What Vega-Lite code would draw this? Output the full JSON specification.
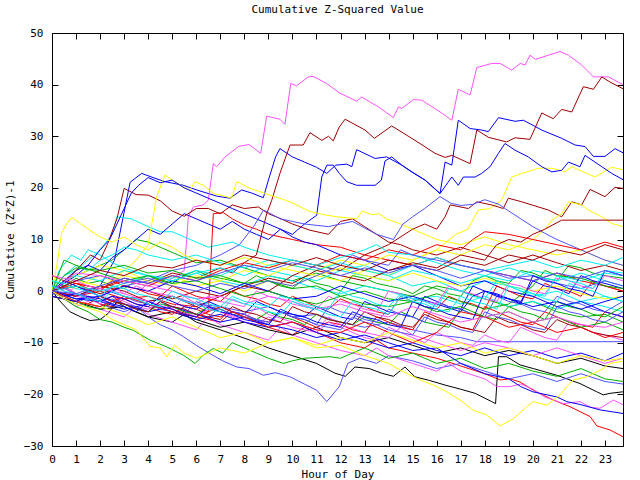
{
"$schema": "https://vega.github.io/schema/vega-lite/v6.json",
"width": 571, "height": 413,
"autosize": {"type": "none"},
"padding": {"left": 52, "top": 33, "right": 17, "bottom": 34},
"background": "white",
"title": {"text": "Cumulative Z-Squared Value", "font": "DejaVu Sans Mono", "fontSize": 11, "fontWeight": "normal", "color": "#000", "offset": 12},
"config": {"view": {"stroke": "#000", "strokeWidth": 1}},
"data": {"values": [
{"s":0,"h":0,"v":0},{"s":0,"h":0.5,"v":1},{"s":0,"h":1,"v":-0.5},{"s":0,"h":2,"v":-2},{"s":0,"h":2.5,"v":-1},{"s":0,"h":3,"v":-2.5},{"s":0,"h":4,"v":-4},{"s":0,"h":4.5,"v":-2},{"s":0,"h":5,"v":-3.5},{"s":0,"h":6,"v":-5},{"s":0,"h":7,"v":-6},{"s":0,"h":7.5,"v":-4},{"s":0,"h":8,"v":-5},{"s":0,"h":9,"v":-7},{"s":0,"h":10,"v":-8.5},{"s":0,"h":10.5,"v":-7},{"s":0,"h":11,"v":-8},{"s":0,"h":12,"v":-10},{"s":0,"h":13,"v":-11},{"s":0,"h":13.5,"v":-9.5},{"s":0,"h":14,"v":-11},{"s":0,"h":15,"v":-12},{"s":0,"h":16,"v":-13},{"s":0,"h":17,"v":-14.5},{"s":0,"h":18,"v":-16},{"s":0,"h":18.64,"v":-17.2},{"s":0,"h":19.05,"v":-17},{"s":0,"h":19.47,"v":-17.6},{"s":0,"h":20.02,"v":-19.2},{"s":0,"h":20.85,"v":-21.1},{"s":0,"h":21.55,"v":-22.4},{"s":0,"h":22.38,"v":-24.3},{"s":0,"h":22.66,"v":-26.1},{"s":0,"h":23.21,"v":-26.9},{"s":0,"h":23.75,"v":-28.2},
{"s":1,"h":0,"v":0},{"s":1,"h":0.5,"v":2},{"s":1,"h":1,"v":3},{"s":1,"h":1.5,"v":4},{"s":1,"h":2,"v":5},{"s":1,"h":2.5,"v":6},{"s":1,"h":3,"v":8},{"s":1,"h":3.5,"v":10},{"s":1,"h":4,"v":9.5},{"s":1,"h":4.5,"v":8.5},{"s":1,"h":5,"v":7.5},{"s":1,"h":5.5,"v":6.5},{"s":1,"h":6,"v":5.5},{"s":1,"h":7,"v":6},{"s":1,"h":8,"v":4.5},{"s":1,"h":9,"v":3},{"s":1,"h":10,"v":2},{"s":1,"h":11,"v":3.5},{"s":1,"h":12,"v":2},{"s":1,"h":13,"v":1},{"s":1,"h":14,"v":0},{"s":1,"h":15,"v":-1},{"s":1,"h":16,"v":1},{"s":1,"h":17,"v":0},{"s":1,"h":18,"v":-1.5},{"s":1,"h":19,"v":-3},{"s":1,"h":20,"v":-2},{"s":1,"h":21,"v":-4},{"s":1,"h":22,"v":-5},{"s":1,"h":23,"v":-4.5},{"s":1,"h":23.75,"v":-6},
{"s":2,"h":0,"v":0},{"s":2,"h":1,"v":-1},{"s":2,"h":2,"v":1},{"s":2,"h":2.6,"v":6},{"s":2,"h":3.25,"v":21.1},{"s":2,"h":3.73,"v":22.8},{"s":2,"h":4.2,"v":22},{"s":2,"h":4.7,"v":21.2},{"s":2,"h":5.46,"v":20.5},{"s":2,"h":6.02,"v":19.6},{"s":2,"h":6.85,"v":18.4},{"s":2,"h":7.4,"v":18},{"s":2,"h":7.89,"v":19.6},{"s":2,"h":8.3,"v":19},{"s":2,"h":8.79,"v":18.1},{"s":2,"h":9,"v":21.5},{"s":2,"h":9.3,"v":26},{"s":2,"h":9.48,"v":27.6},{"s":2,"h":10,"v":26},{"s":2,"h":10.5,"v":25},{"s":2,"h":11,"v":24},{"s":2,"h":11.43,"v":22.8},{"s":2,"h":11.8,"v":24.4},{"s":2,"h":12.26,"v":24.6},{"s":2,"h":12.47,"v":24.1},{"s":2,"h":12.67,"v":27.4},{"s":2,"h":13.44,"v":25.7},{"s":2,"h":13.92,"v":26},{"s":2,"h":14.55,"v":24.4},{"s":2,"h":14.96,"v":23.1},{"s":2,"h":15.52,"v":21.5},{"s":2,"h":16.14,"v":18.9},{"s":2,"h":16.35,"v":25},{"s":2,"h":16.63,"v":24.4},{"s":2,"h":16.9,"v":33.1},{"s":2,"h":17.39,"v":31.5},{"s":2,"h":17.87,"v":31.2},{"s":2,"h":18.15,"v":30.9},{"s":2,"h":18.57,"v":33.6},{"s":2,"h":19.26,"v":32.9},{"s":2,"h":19.61,"v":33.1},{"s":2,"h":20.37,"v":31.2},{"s":2,"h":21.2,"v":29.6},{"s":2,"h":21.76,"v":28.3},{"s":2,"h":22.17,"v":28},{"s":2,"h":22.52,"v":26.1},{"s":2,"h":23,"v":26.1},{"s":2,"h":23.42,"v":27.6},{"s":2,"h":23.75,"v":26.8},
{"s":3,"h":0,"v":0},{"s":3,"h":0.5,"v":-1},{"s":3,"h":1,"v":1},{"s":3,"h":1.5,"v":0},{"s":3,"h":2,"v":-1},{"s":3,"h":2.5,"v":1},{"s":3,"h":3,"v":0.5},{"s":3,"h":3.5,"v":-0.5},{"s":3,"h":4,"v":1.5},{"s":3,"h":4.5,"v":1},{"s":3,"h":5,"v":2.5},{"s":3,"h":5.5,"v":4},{"s":3,"h":5.6,"v":9.9},{"s":3,"h":5.67,"v":14.4},{"s":3,"h":5.88,"v":16.3},{"s":3,"h":6.29,"v":16.7},{"s":3,"h":6.5,"v":17.6},{"s":3,"h":6.71,"v":24.7},{"s":3,"h":6.85,"v":24.1},{"s":3,"h":7.2,"v":26},{"s":3,"h":7.75,"v":28},{"s":3,"h":8.19,"v":28.4},{"s":3,"h":8.68,"v":26.7},{"s":3,"h":8.93,"v":33.9},{"s":3,"h":9.48,"v":33.3},{"s":3,"h":9.69,"v":32.3},{"s":3,"h":9.93,"v":40.2},{"s":3,"h":10.18,"v":39.8},{"s":3,"h":10.66,"v":41.5},{"s":3,"h":10.87,"v":41.6},{"s":3,"h":11.43,"v":40.2},{"s":3,"h":11.95,"v":38.4},{"s":3,"h":12.67,"v":36.8},{"s":3,"h":12.88,"v":37.6},{"s":3,"h":13.57,"v":35.7},{"s":3,"h":14.2,"v":33.6},{"s":3,"h":14.41,"v":35.7},{"s":3,"h":14.55,"v":35.4},{"s":3,"h":15.03,"v":37.1},{"s":3,"h":15.38,"v":37},{"s":3,"h":16.21,"v":34.5},{"s":3,"h":16.63,"v":33.1},{"s":3,"h":16.9,"v":39.1},{"s":3,"h":17.39,"v":38},{"s":3,"h":17.67,"v":43.3},{"s":3,"h":18.29,"v":44.1},{"s":3,"h":18.64,"v":44.1},{"s":3,"h":19.12,"v":42.8},{"s":3,"h":19.47,"v":44.1},{"s":3,"h":19.68,"v":43.8},{"s":3,"h":19.88,"v":45.7},{"s":3,"h":20.11,"v":44.9},{"s":3,"h":20.65,"v":45.7},{"s":3,"h":21.13,"v":46.4},{"s":3,"h":21.48,"v":45.7},{"s":3,"h":22.03,"v":43.8},{"s":3,"h":22.52,"v":41.5},{"s":3,"h":23.14,"v":41.5},{"s":3,"h":23.75,"v":40},
{"s":4,"h":0,"v":0},{"s":4,"h":0.5,"v":3},{"s":4,"h":1,"v":4},{"s":4,"h":1.5,"v":6},{"s":4,"h":2,"v":8},{"s":4,"h":2.5,"v":11},{"s":4,"h":2.7,"v":14.4},{"s":4,"h":3.3,"v":14},{"s":4,"h":4,"v":12.5},{"s":4,"h":4.5,"v":11.5},{"s":4,"h":5,"v":11.5},{"s":4,"h":5.5,"v":10.5},{"s":4,"h":6,"v":9.5},{"s":4,"h":6.5,"v":8.5},{"s":4,"h":7,"v":9},{"s":4,"h":7.5,"v":9.5},{"s":4,"h":8,"v":8.5},{"s":4,"h":9,"v":7},{"s":4,"h":10,"v":6},{"s":4,"h":11,"v":5},{"s":4,"h":12,"v":4},{"s":4,"h":13,"v":5},{"s":4,"h":14,"v":3},{"s":4,"h":15,"v":1},{"s":4,"h":16,"v":2},{"s":4,"h":17,"v":0},{"s":4,"h":18,"v":2},{"s":4,"h":19,"v":1},{"s":4,"h":20,"v":-1},{"s":4,"h":21,"v":0},{"s":4,"h":22,"v":-2},{"s":4,"h":23,"v":-1},{"s":4,"h":23.75,"v":-2},
{"s":5,"h":0,"v":0},{"s":5,"h":1,"v":1.5},{"s":5,"h":2,"v":0.5},{"s":5,"h":3,"v":2.5},{"s":5,"h":4,"v":1.5},{"s":5,"h":5,"v":3.5},{"s":5,"h":6,"v":2.5},{"s":5,"h":7,"v":4.5},{"s":5,"h":7.5,"v":3.5},{"s":5,"h":8,"v":5.5},{"s":5,"h":8.5,"v":7},{"s":5,"h":8.93,"v":15},{"s":5,"h":9.14,"v":17.6},{"s":5,"h":9.48,"v":22.8},{"s":5,"h":9.9,"v":28.3},{"s":5,"h":10.45,"v":28.3},{"s":5,"h":10.73,"v":30.7},{"s":5,"h":11.22,"v":29.2},{"s":5,"h":11.5,"v":30},{"s":5,"h":11.7,"v":29.1},{"s":5,"h":11.95,"v":31.8},{"s":5,"h":12.19,"v":33.3},{"s":5,"h":13.02,"v":31.2},{"s":5,"h":13.41,"v":29.6},{"s":5,"h":14.13,"v":32},{"s":5,"h":15.1,"v":29.2},{"s":5,"h":15.93,"v":26.7},{"s":5,"h":16.35,"v":25.9},{"s":5,"h":16.63,"v":26.3},{"s":5,"h":17.39,"v":24.7},{"s":5,"h":17.67,"v":31.2},{"s":5,"h":18.15,"v":29.8},{"s":5,"h":18.91,"v":28.9},{"s":5,"h":19.26,"v":29.7},{"s":5,"h":19.88,"v":29.4},{"s":5,"h":20.37,"v":34.5},{"s":5,"h":20.85,"v":33.4},{"s":5,"h":21.2,"v":35.2},{"s":5,"h":21.62,"v":34.7},{"s":5,"h":22.1,"v":39.6},{"s":5,"h":22.52,"v":39.1},{"s":5,"h":22.87,"v":41.5},{"s":5,"h":23.21,"v":40.5},{"s":5,"h":23.75,"v":39.2},
{"s":6,"h":0,"v":0},{"s":6,"h":0.5,"v":2},{"s":6,"h":1,"v":3},{"s":6,"h":2,"v":5},{"s":6,"h":3,"v":4},{"s":6,"h":4,"v":2},{"s":6,"h":5,"v":3},{"s":6,"h":6,"v":1},{"s":6,"h":7,"v":2},{"s":6,"h":8,"v":0},{"s":6,"h":9,"v":2},{"s":6,"h":10,"v":1},{"s":6,"h":11,"v":3},{"s":6,"h":12,"v":2},{"s":6,"h":13,"v":4},{"s":6,"h":14,"v":3},{"s":6,"h":15,"v":6},{"s":6,"h":16,"v":8},{"s":6,"h":16.8,"v":11},{"s":6,"h":17.3,"v":12},{"s":6,"h":17.73,"v":15.7},{"s":6,"h":18.2,"v":16},{"s":6,"h":18.7,"v":17.6},{"s":6,"h":19.12,"v":22.1},{"s":6,"h":19.54,"v":22.8},{"s":6,"h":20.23,"v":23.8},{"s":6,"h":20.79,"v":23.8},{"s":6,"h":21.34,"v":23.1},{"s":6,"h":21.62,"v":24.1},{"s":6,"h":22.59,"v":22.1},{"s":6,"h":23.28,"v":24},{"s":6,"h":23.75,"v":23.5},
{"s":7,"h":0,"v":0},{"s":7,"h":0.4,"v":-2.3},{"s":7,"h":0.75,"v":-4},{"s":7,"h":1.2,"v":-5},{"s":7,"h":1.58,"v":-5.7},{"s":7,"h":2,"v":-5.5},{"s":7,"h":2.34,"v":-4.3},{"s":7,"h":2.69,"v":-2.1},{"s":7,"h":3.2,"v":-3.5},{"s":7,"h":4,"v":-5},{"s":7,"h":5,"v":-6},{"s":7,"h":5.5,"v":-4.5},{"s":7,"h":6,"v":-6},{"s":7,"h":7,"v":-7.5},{"s":7,"h":8.24,"v":-9.5},{"s":7,"h":9,"v":-11},{"s":7,"h":10,"v":-12.5},{"s":7,"h":11,"v":-14},{"s":7,"h":11.77,"v":-15.9},{"s":7,"h":12.2,"v":-16.5},{"s":7,"h":12.6,"v":-14.7},{"s":7,"h":13.2,"v":-15},{"s":7,"h":13.71,"v":-15.9},{"s":7,"h":14.2,"v":-16.5},{"s":7,"h":14.68,"v":-14.7},{"s":7,"h":15.1,"v":-16.6},{"s":7,"h":15.7,"v":-17.3},{"s":7,"h":16.35,"v":-18.2},{"s":7,"h":17,"v":-19},{"s":7,"h":17.6,"v":-19.8},{"s":7,"h":18.29,"v":-21.4},{"s":7,"h":18.45,"v":-21.8},{"s":7,"h":18.57,"v":-12.7},{"s":7,"h":18.91,"v":-12.7},{"s":7,"h":19.47,"v":-14.3},{"s":7,"h":20.02,"v":-15},{"s":7,"h":21,"v":-16.3},{"s":7,"h":21.96,"v":-17.9},{"s":7,"h":22.66,"v":-19.5},{"s":7,"h":22.93,"v":-20.1},{"s":7,"h":23.21,"v":-19.8},{"s":7,"h":23.75,"v":-19.5},
{"s":8,"h":0,"v":0},{"s":8,"h":0.5,"v":-1.5},{"s":8,"h":1,"v":-2.5},{"s":8,"h":1.5,"v":-1},{"s":8,"h":2,"v":-2.5},{"s":8,"h":3,"v":-4},{"s":8,"h":3.5,"v":-3},{"s":8,"h":4,"v":-5},{"s":8,"h":4.5,"v":-6.5},{"s":8,"h":5,"v":-7.5},{"s":8,"h":5.46,"v":-8.8},{"s":8,"h":6,"v":-10.5},{"s":8,"h":6.57,"v":-12.1},{"s":8,"h":7.1,"v":-13.5},{"s":8,"h":7.68,"v":-14.7},{"s":8,"h":8.2,"v":-15},{"s":8,"h":8.79,"v":-16.3},{"s":8,"h":9.3,"v":-15.8},{"s":8,"h":9.9,"v":-16.6},{"s":8,"h":10.5,"v":-18},{"s":8,"h":11.01,"v":-19.2},{"s":8,"h":11.43,"v":-21.4},{"s":8,"h":11.95,"v":-18.5},{"s":8,"h":12.3,"v":-14},{"s":8,"h":12.8,"v":-13},{"s":8,"h":13.5,"v":-14},{"s":8,"h":14,"v":-12.5},{"s":8,"h":15,"v":-13.5},{"s":8,"h":16,"v":-15},{"s":8,"h":17,"v":-14},{"s":8,"h":18,"v":-15.5},{"s":8,"h":19,"v":-17},{"s":8,"h":20,"v":-16},{"s":8,"h":21,"v":-17.5},{"s":8,"h":22,"v":-16},{"s":8,"h":23,"v":-17.5},{"s":8,"h":23.75,"v":-18},
{"s":9,"h":0,"v":0},{"s":9,"h":1,"v":-1},{"s":9,"h":2,"v":0},{"s":9,"h":3,"v":-1.5},{"s":9,"h":4,"v":-1},{"s":9,"h":5,"v":-2.5},{"s":9,"h":6,"v":-3},{"s":9,"h":6.5,"v":-4},{"s":9,"h":6.6,"v":5},{"s":9,"h":6.71,"v":15},{"s":9,"h":7.13,"v":15.2},{"s":9,"h":7.5,"v":14},{"s":9,"h":8,"v":12.8},{"s":9,"h":8.5,"v":12},{"s":9,"h":9,"v":11},{"s":9,"h":10,"v":10},{"s":9,"h":11,"v":9},{"s":9,"h":12,"v":8.5},{"s":9,"h":13,"v":7},{"s":9,"h":14,"v":6},{"s":9,"h":15,"v":5},{"s":9,"h":16,"v":6.5},{"s":9,"h":17,"v":5},{"s":9,"h":18,"v":4},{"s":9,"h":19,"v":3},{"s":9,"h":20,"v":2},{"s":9,"h":21,"v":3.5},{"s":9,"h":22,"v":2},{"s":9,"h":23,"v":1},{"s":9,"h":23.75,"v":0},
{"s":10,"h":0,"v":2},{"s":10,"h":0.5,"v":1},{"s":10,"h":1,"v":2.5},{"s":10,"h":1.5,"v":1.5},{"s":10,"h":2,"v":2},{"s":10,"h":2.5,"v":1},{"s":10,"h":3,"v":0.5},{"s":10,"h":3.5,"v":2},{"s":10,"h":4,"v":3},{"s":10,"h":4.5,"v":2},{"s":10,"h":5,"v":1.5},{"s":10,"h":5.5,"v":3},{"s":10,"h":6,"v":4},{"s":10,"h":6.5,"v":3},{"s":10,"h":7,"v":2.5},{"s":10,"h":7.5,"v":2},{"s":10,"h":8,"v":1.5},{"s":10,"h":8.5,"v":3},{"s":10,"h":9,"v":2},{"s":10,"h":9.5,"v":1},{"s":10,"h":10,"v":0.5},{"s":10,"h":10.5,"v":2.5},{"s":10,"h":11,"v":1.5},{"s":10,"h":11.5,"v":1},{"s":10,"h":12,"v":0},{"s":10,"h":12.5,"v":3},{"s":10,"h":13,"v":2.5},{"s":10,"h":13.5,"v":1.5},{"s":10,"h":14,"v":1},{"s":10,"h":14.5,"v":0.5},{"s":10,"h":15,"v":-0.5},{"s":10,"h":15.5,"v":1},{"s":10,"h":16,"v":0.5},{"s":10,"h":16.5,"v":-0.5},{"s":10,"h":17,"v":-1},{"s":10,"h":17.5,"v":2},{"s":10,"h":18,"v":3},{"s":10,"h":18.5,"v":2},{"s":10,"h":19,"v":1.5},{"s":10,"h":19.5,"v":4},{"s":10,"h":20,"v":3.5},{"s":10,"h":20.5,"v":2.5},{"s":10,"h":21,"v":2},{"s":10,"h":21.5,"v":5},{"s":10,"h":22,"v":4.5},{"s":10,"h":22.5,"v":3.5},{"s":10,"h":23,"v":3},{"s":10,"h":23.75,"v":2.5},
{"s":11,"h":0,"v":0},{"s":11,"h":0.5,"v":2},{"s":11,"h":1,"v":4},{"s":11,"h":1.5,"v":5},{"s":11,"h":2,"v":4},{"s":11,"h":2.5,"v":6.5},{"s":11,"h":3,"v":8},{"s":11,"h":3.5,"v":10},{"s":11,"h":4,"v":12},{"s":11,"h":4.5,"v":11},{"s":11,"h":5,"v":13},{"s":11,"h":5.5,"v":15},{"s":11,"h":6,"v":14},{"s":11,"h":6.5,"v":13},{"s":11,"h":7,"v":12},{"s":11,"h":7.5,"v":13.5},{"s":11,"h":8,"v":12},{"s":11,"h":8.5,"v":11},{"s":11,"h":9,"v":10},{"s":11,"h":9.5,"v":12},{"s":11,"h":10,"v":11},{"s":11,"h":10.5,"v":13},{"s":11,"h":11.01,"v":14.7},{"s":11,"h":11.22,"v":22.1},{"s":11,"h":11.43,"v":24.4},{"s":11,"h":11.7,"v":24.4},{"s":11,"h":11.95,"v":22.8},{"s":11,"h":12.26,"v":21.2},{"s":11,"h":12.67,"v":20.5},{"s":11,"h":13.44,"v":20.5},{"s":11,"h":13.7,"v":21.5},{"s":11,"h":13.85,"v":25.2},{"s":11,"h":14.13,"v":26},{"s":11,"h":14.55,"v":24.4},{"s":11,"h":15,"v":23},{"s":11,"h":15.52,"v":21.5},{"s":11,"h":16.14,"v":18.9},{"s":11,"h":16.63,"v":22.1},{"s":11,"h":16.9,"v":20.5},{"s":11,"h":17.11,"v":22.1},{"s":11,"h":17.6,"v":22.1},{"s":11,"h":17.87,"v":22.8},{"s":11,"h":18.22,"v":24.1},{"s":11,"h":18.57,"v":26.7},{"s":11,"h":18.84,"v":28.6},{"s":11,"h":19.26,"v":27.3},{"s":11,"h":19.81,"v":26},{"s":11,"h":20.37,"v":24.1},{"s":11,"h":20.79,"v":23.1},{"s":11,"h":21.2,"v":23.4},{"s":11,"h":21.48,"v":25},{"s":11,"h":21.96,"v":24.1},{"s":11,"h":22.17,"v":26.3},{"s":11,"h":22.87,"v":24.1},{"s":11,"h":23.28,"v":22.8},{"s":11,"h":23.75,"v":21.6},
{"s":12,"h":0,"v":0},{"s":12,"h":0.5,"v":-1.5},{"s":12,"h":1,"v":-3},{"s":12,"h":1.5,"v":-2},{"s":12,"h":2,"v":-3.5},{"s":12,"h":3,"v":-5},{"s":12,"h":3.5,"v":-3},{"s":12,"h":4,"v":-4.5},{"s":12,"h":5,"v":-6},{"s":12,"h":6,"v":-7.5},{"s":12,"h":6.5,"v":-5},{"s":12,"h":7,"v":-6.5},{"s":12,"h":8,"v":-8},{"s":12,"h":9,"v":-9.5},{"s":12,"h":9.5,"v":-7},{"s":12,"h":10,"v":-8.5},{"s":12,"h":11,"v":-10},{"s":12,"h":12,"v":-11.5},{"s":12,"h":13,"v":-12.5},{"s":12,"h":13.5,"v":-11},{"s":12,"h":14,"v":-12.5},{"s":12,"h":15,"v":-14},{"s":12,"h":16,"v":-15.5},{"s":12,"h":16.5,"v":-14},{"s":12,"h":17,"v":-15.5},{"s":12,"h":18,"v":-17},{"s":12,"h":18.5,"v":-18.5},{"s":12,"h":19.05,"v":-18.5},{"s":12,"h":19.5,"v":-18},{"s":12,"h":20,"v":-19},{"s":12,"h":20.5,"v":-20.5},{"s":12,"h":21.27,"v":-21.8},{"s":12,"h":21.96,"v":-21.4},{"s":12,"h":22.4,"v":-22.5},{"s":12,"h":22.79,"v":-22.7},{"s":12,"h":23.35,"v":-21.1},{"s":12,"h":23.75,"v":-22},
{"s":13,"h":0,"v":0},{"s":13,"h":0.3,"v":4},{"s":13,"h":0.8,"v":7},{"s":13,"h":1.2,"v":6},{"s":13,"h":1.5,"v":8},{"s":13,"h":2,"v":7},{"s":13,"h":2.5,"v":5.5},{"s":13,"h":3,"v":4.5},{"s":13,"h":4,"v":3},{"s":13,"h":5,"v":2},{"s":13,"h":6,"v":3.5},{"s":13,"h":7,"v":2},{"s":13,"h":8,"v":1},{"s":13,"h":9,"v":3},{"s":13,"h":10,"v":2},{"s":13,"h":11,"v":0.5},{"s":13,"h":12,"v":-0.5},{"s":13,"h":13,"v":1},{"s":13,"h":14,"v":0},{"s":13,"h":15,"v":-1.5},{"s":13,"h":16,"v":-1},{"s":13,"h":17,"v":-2.5},{"s":13,"h":18,"v":-1},{"s":13,"h":19,"v":-3},{"s":13,"h":20,"v":-2},{"s":13,"h":21,"v":-3.5},{"s":13,"h":22,"v":-2},{"s":13,"h":23,"v":-3},{"s":13,"h":23.75,"v":-4},
{"s":14,"h":0,"v":0},{"s":14,"h":0.8,"v":3},{"s":14,"h":1.2,"v":5},{"s":14,"h":1.6,"v":7},{"s":14,"h":2,"v":6},{"s":14,"h":2.3,"v":9},{"s":14,"h":2.7,"v":14},{"s":14,"h":3,"v":19.9},{"s":14,"h":3.5,"v":18.7},{"s":14,"h":4,"v":18.6},{"s":14,"h":4.5,"v":17.5},{"s":14,"h":5,"v":15.5},{"s":14,"h":5.5,"v":14.5},{"s":14,"h":6,"v":16},{"s":14,"h":6.5,"v":16},{"s":14,"h":7,"v":15},{"s":14,"h":7.5,"v":16.7},{"s":14,"h":8,"v":16},{"s":14,"h":8.58,"v":16.3},{"s":14,"h":9,"v":15},{"s":14,"h":9.48,"v":14.1},{"s":14,"h":10,"v":13},{"s":14,"h":10.73,"v":11.8},{"s":14,"h":11.5,"v":11},{"s":14,"h":12,"v":13.5},{"s":14,"h":12.5,"v":14},{"s":14,"h":13,"v":12.5},{"s":14,"h":13.5,"v":11},{"s":14,"h":14,"v":9.5},{"s":14,"h":14.5,"v":9},{"s":14,"h":15,"v":8},{"s":14,"h":16,"v":7},{"s":14,"h":17,"v":8.5},{"s":14,"h":18,"v":7},{"s":14,"h":19,"v":5.5},{"s":14,"h":20,"v":7},{"s":14,"h":21,"v":5.5},{"s":14,"h":22,"v":4},{"s":14,"h":23,"v":5},{"s":14,"h":23.75,"v":4},
{"s":15,"h":0,"v":0},{"s":15,"h":0.5,"v":1},{"s":15,"h":1,"v":0.5},{"s":15,"h":1.5,"v":2},{"s":15,"h":2,"v":3},{"s":15,"h":2.5,"v":2},{"s":15,"h":3,"v":4},{"s":15,"h":3.5,"v":6},{"s":15,"h":4,"v":9},{"s":15,"h":4.35,"v":18.3},{"s":15,"h":4.7,"v":22.5},{"s":15,"h":5,"v":21.5},{"s":15,"h":5.46,"v":20.2},{"s":15,"h":5.74,"v":19.6},{"s":15,"h":5.95,"v":21.2},{"s":15,"h":6.3,"v":20.5},{"s":15,"h":6.71,"v":18.9},{"s":15,"h":7.1,"v":18.5},{"s":15,"h":7.47,"v":18},{"s":15,"h":7.68,"v":21.2},{"s":15,"h":8.24,"v":19.9},{"s":15,"h":9.07,"v":18.6},{"s":15,"h":9.9,"v":17.3},{"s":15,"h":10.73,"v":15.4},{"s":15,"h":11.43,"v":14.7},{"s":15,"h":11.84,"v":14.4},{"s":15,"h":12.3,"v":14.2},{"s":15,"h":12.67,"v":14},{"s":15,"h":12.9,"v":15.5},{"s":15,"h":13.3,"v":14.8},{"s":15,"h":13.6,"v":15},{"s":15,"h":13.9,"v":14},{"s":15,"h":14.5,"v":13},{"s":15,"h":15.1,"v":11.8},{"s":15,"h":15.5,"v":11},{"s":15,"h":16,"v":10},{"s":15,"h":17,"v":9},{"s":15,"h":18,"v":10.5},{"s":15,"h":19,"v":9},{"s":15,"h":20,"v":8},{"s":15,"h":21,"v":7},{"s":15,"h":22,"v":8},{"s":15,"h":23,"v":6},{"s":15,"h":23.75,"v":5},
{"s":16,"h":0,"v":0},{"s":16,"h":1,"v":-2},{"s":16,"h":2,"v":-3.5},{"s":16,"h":3,"v":-3},{"s":16,"h":4,"v":-5},{"s":16,"h":5,"v":-4},{"s":16,"h":6,"v":-5.5},{"s":16,"h":7,"v":-7},{"s":16,"h":8,"v":-6},{"s":16,"h":9,"v":-7.5},{"s":16,"h":10,"v":-8.5},{"s":16,"h":11,"v":-7},{"s":16,"h":12,"v":-9},{"s":16,"h":13,"v":-10},{"s":16,"h":14,"v":-9},{"s":16,"h":15,"v":-10.5},{"s":16,"h":16,"v":-12},{"s":16,"h":17,"v":-11},{"s":16,"h":18,"v":-12.5},{"s":16,"h":19,"v":-11.5},{"s":16,"h":20,"v":-12.5},{"s":16,"h":21,"v":-14},{"s":16,"h":22,"v":-13},{"s":16,"h":23,"v":-14.5},{"s":16,"h":23.75,"v":-15},
{"s":17,"h":0,"v":0},{"s":17,"h":1,"v":-1},{"s":17,"h":2,"v":0.5},{"s":17,"h":3,"v":-1},{"s":17,"h":4,"v":-2},{"s":17,"h":5,"v":-1},{"s":17,"h":6,"v":-2.5},{"s":17,"h":7,"v":-3},{"s":17,"h":8,"v":-4},{"s":17,"h":9,"v":-3},{"s":17,"h":10,"v":-5},{"s":17,"h":11,"v":-4.5},{"s":17,"h":12,"v":-6},{"s":17,"h":13,"v":-7},{"s":17,"h":14,"v":-6},{"s":17,"h":15,"v":-7.5},{"s":17,"h":16,"v":-8.5},{"s":17,"h":17,"v":-9},{"s":17,"h":17.67,"v":-9.8},{"s":17,"h":23.75,"v":-9.8},
{"s":18,"h":0,"v":-1},{"s":18,"h":0.5,"v":-1.5},{"s":18,"h":1,"v":-2},{"s":18,"h":1.5,"v":-1},{"s":18,"h":2,"v":-2.5},{"s":18,"h":2.5,"v":-3},{"s":18,"h":3,"v":-1.5},{"s":18,"h":3.5,"v":-2.5},{"s":18,"h":4,"v":-3},{"s":18,"h":4.5,"v":-4},{"s":18,"h":5,"v":-4.5},{"s":18,"h":5.5,"v":-3},{"s":18,"h":6,"v":-3.5},{"s":18,"h":6.5,"v":-4.5},{"s":18,"h":7,"v":-5},{"s":18,"h":7.5,"v":-4},{"s":18,"h":8,"v":-4.5},{"s":18,"h":8.5,"v":-5.5},{"s":18,"h":9,"v":-6},{"s":18,"h":9.5,"v":-4},{"s":18,"h":10,"v":-5},{"s":18,"h":10.5,"v":-6},{"s":18,"h":11,"v":-7},{"s":18,"h":11.5,"v":-6},{"s":18,"h":12,"v":-6.5},{"s":18,"h":12.5,"v":-7.5},{"s":18,"h":13,"v":-8},{"s":18,"h":13.5,"v":-5},{"s":18,"h":14,"v":-6},{"s":18,"h":14.5,"v":-7},{"s":18,"h":15,"v":-7.5},{"s":18,"h":15.5,"v":-4},{"s":18,"h":16,"v":-5},{"s":18,"h":16.5,"v":-6},{"s":18,"h":17,"v":-7},{"s":18,"h":17.5,"v":-7.5},{"s":18,"h":18,"v":-3},{"s":18,"h":18.5,"v":-4},{"s":18,"h":19,"v":-5},{"s":18,"h":19.5,"v":-6},{"s":18,"h":20,"v":-6.5},{"s":18,"h":20.5,"v":-4},{"s":18,"h":21,"v":-5},{"s":18,"h":21.5,"v":-6},{"s":18,"h":22,"v":-6.5},{"s":18,"h":22.5,"v":-7},{"s":18,"h":23,"v":-4},{"s":18,"h":23.75,"v":-5},
{"s":19,"h":0,"v":0},{"s":19,"h":0.5,"v":-1.5},{"s":19,"h":1,"v":-3},{"s":19,"h":1.5,"v":-4},{"s":19,"h":2,"v":-5.5},{"s":19,"h":2.5,"v":-6},{"s":19,"h":3,"v":-7},{"s":19,"h":3.38,"v":-7.6},{"s":19,"h":4.08,"v":-9.5},{"s":19,"h":4.77,"v":-10.8},{"s":19,"h":5.46,"v":-12.4},{"s":19,"h":5.95,"v":-14},{"s":19,"h":6.29,"v":-12.4},{"s":19,"h":6.71,"v":-11.1},{"s":19,"h":7.1,"v":-12},{"s":19,"h":7.5,"v":-10},{"s":19,"h":8,"v":-11},{"s":19,"h":8.5,"v":-12},{"s":19,"h":9,"v":-13},{"s":19,"h":9.62,"v":-14},{"s":19,"h":10,"v":-13.5},{"s":19,"h":10.5,"v":-13},{"s":19,"h":11.56,"v":-12.7},{"s":19,"h":12,"v":-13},{"s":19,"h":13,"v":-11},{"s":19,"h":14,"v":-13},{"s":19,"h":15,"v":-12},{"s":19,"h":16,"v":-14},{"s":19,"h":17,"v":-13},{"s":19,"h":18,"v":-15},{"s":19,"h":19,"v":-14},{"s":19,"h":20,"v":-15.5},{"s":19,"h":21,"v":-16.5},{"s":19,"h":22,"v":-15},{"s":19,"h":23,"v":-17},{"s":19,"h":23.75,"v":-17.5},
{"s":20,"h":0,"v":0},{"s":20,"h":0.5,"v":1.5},{"s":20,"h":1,"v":3},{"s":20,"h":1.5,"v":5},{"s":20,"h":2,"v":8},{"s":20,"h":2.4,"v":10},{"s":20,"h":2.7,"v":13},{"s":20,"h":3,"v":16},{"s":20,"h":3.3,"v":19},{"s":20,"h":3.6,"v":20.5},{"s":20,"h":4,"v":22},{"s":20,"h":4.5,"v":21},{"s":20,"h":5,"v":21.5},{"s":20,"h":5.5,"v":20},{"s":20,"h":6,"v":19},{"s":20,"h":6.5,"v":18},{"s":20,"h":7,"v":17},{"s":20,"h":7.5,"v":16},{"s":20,"h":8,"v":15},{"s":20,"h":8.5,"v":14},{"s":20,"h":9,"v":13},{"s":20,"h":9.5,"v":12},{"s":20,"h":10,"v":10.5},{"s":20,"h":10.5,"v":9.5},{"s":20,"h":11,"v":9},{"s":20,"h":12,"v":7},{"s":20,"h":13,"v":6},{"s":20,"h":14,"v":4},{"s":20,"h":15,"v":5},{"s":20,"h":16,"v":3},{"s":20,"h":17,"v":1},{"s":20,"h":18,"v":2},{"s":20,"h":19,"v":0},{"s":20,"h":20,"v":-1},{"s":20,"h":21,"v":-3},{"s":20,"h":22,"v":-2},{"s":20,"h":23,"v":-4},{"s":20,"h":23.75,"v":-5},
{"s":21,"h":0,"v":1},{"s":21,"h":0.5,"v":0},{"s":21,"h":1,"v":-1},{"s":21,"h":1.5,"v":-1.5},{"s":21,"h":2,"v":-2.5},{"s":21,"h":2.5,"v":-1},{"s":21,"h":3,"v":-2},{"s":21,"h":3.5,"v":-3},{"s":21,"h":4,"v":-3.5},{"s":21,"h":4.5,"v":-2},{"s":21,"h":5,"v":-3},{"s":21,"h":5.5,"v":-4},{"s":21,"h":6,"v":-5},{"s":21,"h":6.5,"v":-3.5},{"s":21,"h":7,"v":-4},{"s":21,"h":7.5,"v":-5},{"s":21,"h":8,"v":-6},{"s":21,"h":8.5,"v":-6.5},{"s":21,"h":9,"v":-5},{"s":21,"h":9.5,"v":-6},{"s":21,"h":10,"v":-7},{"s":21,"h":10.5,"v":-7.5},{"s":21,"h":11,"v":-8},{"s":21,"h":11.5,"v":-6},{"s":21,"h":12,"v":-7},{"s":21,"h":12.5,"v":-8},{"s":21,"h":13,"v":-9},{"s":21,"h":13.5,"v":-9.5},{"s":21,"h":14,"v":-7},{"s":21,"h":14.5,"v":-8},{"s":21,"h":15,"v":-9},{"s":21,"h":15.5,"v":-10},{"s":21,"h":16,"v":-8},{"s":21,"h":16.5,"v":-9},{"s":21,"h":17,"v":-10},{"s":21,"h":17.5,"v":-10.5},{"s":21,"h":18,"v":-8.5},{"s":21,"h":18.5,"v":-9.5},{"s":21,"h":19,"v":-10},{"s":21,"h":19.5,"v":-7},{"s":21,"h":20,"v":-8},{"s":21,"h":20.5,"v":-9},{"s":21,"h":21,"v":-9.5},{"s":21,"h":21.5,"v":-6},{"s":21,"h":22,"v":-7},{"s":21,"h":22.5,"v":-8},{"s":21,"h":23,"v":-8.5},{"s":21,"h":23.75,"v":-9.5},
{"s":22,"h":0,"v":0},{"s":22,"h":0.5,"v":2},{"s":22,"h":1,"v":3},{"s":22,"h":2,"v":2},{"s":22,"h":3,"v":4},{"s":22,"h":4,"v":3},{"s":22,"h":5,"v":2.5},{"s":22,"h":6,"v":4},{"s":22,"h":7,"v":3},{"s":22,"h":8,"v":5},{"s":22,"h":9,"v":4},{"s":22,"h":10,"v":3},{"s":22,"h":11,"v":2},{"s":22,"h":12,"v":4},{"s":22,"h":13,"v":3},{"s":22,"h":14,"v":2},{"s":22,"h":15,"v":4},{"s":22,"h":16,"v":3},{"s":22,"h":17,"v":1.5},{"s":22,"h":18,"v":3},{"s":22,"h":19,"v":2},{"s":22,"h":20,"v":4},{"s":22,"h":21,"v":3},{"s":22,"h":22,"v":2},{"s":22,"h":23,"v":3.5},{"s":22,"h":23.75,"v":3},
{"s":23,"h":0,"v":0},{"s":23,"h":1,"v":-1},{"s":23,"h":2,"v":1},{"s":23,"h":3,"v":0},{"s":23,"h":4,"v":-2},{"s":23,"h":5,"v":-1},{"s":23,"h":6,"v":-3},{"s":23,"h":7,"v":-1},{"s":23,"h":8,"v":1},{"s":23,"h":9,"v":0},{"s":23,"h":10,"v":3},{"s":23,"h":11,"v":5},{"s":23,"h":12,"v":4},{"s":23,"h":13,"v":7},{"s":23,"h":14,"v":9},{"s":23,"h":15,"v":12},{"s":23,"h":15.5,"v":13},{"s":23,"h":16,"v":12},{"s":23,"h":16.35,"v":14.4},{"s":23,"h":16.56,"v":16.7},{"s":23,"h":17.32,"v":16},{"s":23,"h":17.67,"v":17.3},{"s":23,"h":18.29,"v":16.7},{"s":23,"h":18.77,"v":16},{"s":23,"h":18.98,"v":18},{"s":23,"h":19.54,"v":17.3},{"s":23,"h":20.65,"v":15.7},{"s":23,"h":21.2,"v":14.4},{"s":23,"h":21.62,"v":17.3},{"s":23,"h":22.03,"v":16.7},{"s":23,"h":22.38,"v":19.7},{"s":23,"h":23,"v":18.3},{"s":23,"h":23.42,"v":20.1},{"s":23,"h":23.75,"v":19.9},
{"s":24,"h":0,"v":0},{"s":24,"h":1,"v":2},{"s":24,"h":2,"v":1},{"s":24,"h":3,"v":3},{"s":24,"h":4,"v":2},{"s":24,"h":5,"v":1},{"s":24,"h":6,"v":3},{"s":24,"h":7,"v":2},{"s":24,"h":8,"v":4},{"s":24,"h":9,"v":3},{"s":24,"h":10,"v":5},{"s":24,"h":11,"v":4},{"s":24,"h":12,"v":6},{"s":24,"h":13,"v":5},{"s":24,"h":14,"v":7},{"s":24,"h":15,"v":6},{"s":24,"h":16,"v":8},{"s":24,"h":17,"v":7},{"s":24,"h":18,"v":9},{"s":24,"h":19,"v":8},{"s":24,"h":20,"v":10},{"s":24,"h":20.5,"v":12},{"s":24,"h":20.79,"v":13.75},{"s":24,"h":21.2,"v":15},{"s":24,"h":21.48,"v":17.3},{"s":24,"h":22.03,"v":16.7},{"s":24,"h":22.31,"v":15.7},{"s":24,"h":22.87,"v":14.4},{"s":24,"h":23.28,"v":13.1},{"s":24,"h":23.75,"v":12.5},
{"s":25,"h":0,"v":0},{"s":25,"h":1,"v":-1.5},{"s":25,"h":2,"v":-1},{"s":25,"h":3,"v":-2.5},{"s":25,"h":4,"v":-4},{"s":25,"h":5,"v":-3},{"s":25,"h":6,"v":-4.5},{"s":25,"h":7,"v":-6},{"s":25,"h":8,"v":-5},{"s":25,"h":9,"v":-6.5},{"s":25,"h":10,"v":-7.5},{"s":25,"h":11,"v":-9},{"s":25,"h":12,"v":-8},{"s":25,"h":13,"v":-9.5},{"s":25,"h":14,"v":-11},{"s":25,"h":15,"v":-10},{"s":25,"h":16,"v":-11.5},{"s":25,"h":17,"v":-12.5},{"s":25,"h":18,"v":-11},{"s":25,"h":19,"v":-12.5},{"s":25,"h":20,"v":-11.5},{"s":25,"h":21,"v":-13},{"s":25,"h":22,"v":-12},{"s":25,"h":23,"v":-13.5},{"s":25,"h":23.75,"v":-12},
{"s":26,"h":0,"v":0},{"s":26,"h":1,"v":1},{"s":26,"h":2,"v":-1},{"s":26,"h":3,"v":1},{"s":26,"h":4,"v":2},{"s":26,"h":5,"v":4},{"s":26,"h":6,"v":5},{"s":26,"h":7,"v":7},{"s":26,"h":7.8,"v":9},{"s":26,"h":8.4,"v":12.6},{"s":26,"h":8.8,"v":15.7},{"s":26,"h":9.5,"v":14},{"s":26,"h":10.5,"v":13},{"s":26,"h":11.5,"v":12.5},{"s":26,"h":12.5,"v":13.5},{"s":26,"h":13.5,"v":11},{"s":26,"h":14.2,"v":10},{"s":26,"h":14.6,"v":13},{"s":26,"h":15,"v":14.4},{"s":26,"h":15.5,"v":16},{"s":26,"h":16.14,"v":18.3},{"s":26,"h":16.6,"v":17},{"s":26,"h":17,"v":16.6},{"s":26,"h":17.5,"v":16.8},{"s":26,"h":18,"v":17.7},{"s":26,"h":18.6,"v":16.8},{"s":26,"h":19,"v":15.5},{"s":26,"h":19.5,"v":14},{"s":26,"h":20,"v":12.5},{"s":26,"h":20.5,"v":11.2},{"s":26,"h":21,"v":10},{"s":26,"h":21.5,"v":9},{"s":26,"h":22,"v":8},{"s":26,"h":23,"v":6},{"s":26,"h":23.75,"v":5},
{"s":27,"h":0,"v":3},{"s":27,"h":0.5,"v":2},{"s":27,"h":1,"v":1.5},{"s":27,"h":1.5,"v":0.5},{"s":27,"h":2,"v":0},{"s":27,"h":2.5,"v":2},{"s":27,"h":3,"v":1},{"s":27,"h":3.5,"v":0.5},{"s":27,"h":4,"v":-0.5},{"s":27,"h":4.5,"v":-1},{"s":27,"h":5,"v":1},{"s":27,"h":5.5,"v":0},{"s":27,"h":6,"v":-1},{"s":27,"h":6.5,"v":-1.5},{"s":27,"h":7,"v":-2},{"s":27,"h":7.5,"v":0},{"s":27,"h":8,"v":-1},{"s":27,"h":8.5,"v":-1.5},{"s":27,"h":9,"v":-2.5},{"s":27,"h":9.5,"v":-3},{"s":27,"h":10,"v":-1},{"s":27,"h":10.5,"v":-2},{"s":27,"h":11,"v":-3},{"s":27,"h":11.5,"v":-3.5},{"s":27,"h":12,"v":-1.5},{"s":27,"h":12.5,"v":-2.5},{"s":27,"h":13,"v":-3},{"s":27,"h":13.5,"v":-4},{"s":27,"h":14,"v":-4.5},{"s":27,"h":14.5,"v":-1},{"s":27,"h":15,"v":-2},{"s":27,"h":15.5,"v":-3},{"s":27,"h":16,"v":-3.5},{"s":27,"h":16.5,"v":-1},{"s":27,"h":17,"v":-2},{"s":27,"h":17.5,"v":-2.5},{"s":27,"h":18,"v":-3.5},{"s":27,"h":18.5,"v":1},{"s":27,"h":19,"v":0},{"s":27,"h":19.5,"v":-1},{"s":27,"h":20,"v":-1.5},{"s":27,"h":20.5,"v":1.5},{"s":27,"h":21,"v":0.5},{"s":27,"h":21.5,"v":0},{"s":27,"h":22,"v":-1},{"s":27,"h":22.5,"v":2},{"s":27,"h":23,"v":1},{"s":27,"h":23.75,"v":0},
{"s":28,"h":0,"v":-1},{"s":28,"h":0.5,"v":-1.5},{"s":28,"h":1,"v":-2},{"s":28,"h":1.5,"v":-3},{"s":28,"h":2,"v":-3.5},{"s":28,"h":2.5,"v":-2},{"s":28,"h":3,"v":-2.5},{"s":28,"h":3.5,"v":-3.5},{"s":28,"h":4,"v":-4},{"s":28,"h":4.5,"v":-2.5},{"s":28,"h":5,"v":-3},{"s":28,"h":5.5,"v":-4},{"s":28,"h":6,"v":-4.5},{"s":28,"h":6.5,"v":-3},{"s":28,"h":7,"v":-3.5},{"s":28,"h":7.5,"v":-4.5},{"s":28,"h":8,"v":-5},{"s":28,"h":8.5,"v":-5.5},{"s":28,"h":9,"v":-4},{"s":28,"h":9.5,"v":-5},{"s":28,"h":10,"v":-5.5},{"s":28,"h":10.5,"v":-6.5},{"s":28,"h":11,"v":-4.5},{"s":28,"h":11.5,"v":-5.5},{"s":28,"h":12,"v":-6},{"s":28,"h":12.5,"v":-6.5},{"s":28,"h":13,"v":-5},{"s":28,"h":13.5,"v":-6},{"s":28,"h":14,"v":-6.5},{"s":28,"h":14.5,"v":-4},{"s":28,"h":15,"v":-5},{"s":28,"h":15.5,"v":-6},{"s":28,"h":16,"v":-6.5},{"s":28,"h":16.5,"v":-7},{"s":28,"h":17,"v":-3.5},{"s":28,"h":17.5,"v":-4.5},{"s":28,"h":18,"v":-5},{"s":28,"h":18.5,"v":-5.5},{"s":28,"h":19,"v":-3},{"s":28,"h":19.5,"v":-4},{"s":28,"h":20,"v":-4.5},{"s":28,"h":20.5,"v":-5.5},{"s":28,"h":21,"v":-2},{"s":28,"h":21.5,"v":-3},{"s":28,"h":22,"v":-3.5},{"s":28,"h":22.5,"v":-4.5},{"s":28,"h":23,"v":-5},{"s":28,"h":23.75,"v":-3},
{"s":29,"h":0,"v":0},{"s":29,"h":1,"v":-1.5},{"s":29,"h":2,"v":-2},{"s":29,"h":3,"v":-3.5},{"s":29,"h":4,"v":-2.5},{"s":29,"h":5,"v":-4},{"s":29,"h":6,"v":-5.5},{"s":29,"h":7,"v":-4.5},{"s":29,"h":8,"v":-6},{"s":29,"h":9,"v":-7},{"s":29,"h":10,"v":-6},{"s":29,"h":11,"v":-8},{"s":29,"h":12,"v":-9.5},{"s":29,"h":13,"v":-8.5},{"s":29,"h":14,"v":-10},{"s":29,"h":15,"v":-11.5},{"s":29,"h":16,"v":-11},{"s":29,"h":17,"v":-14},{"s":29,"h":18,"v":-16},{"s":29,"h":19,"v":-17},{"s":29,"h":19.5,"v":-18.5},{"s":29,"h":20,"v":-19.5},{"s":29,"h":21,"v":-20.5},{"s":29,"h":21.41,"v":-21.4},{"s":29,"h":22,"v":-22},{"s":29,"h":22.79,"v":-23},{"s":29,"h":23.75,"v":-23.7},
{"s":30,"h":0,"v":0},{"s":30,"h":0.5,"v":1},{"s":30,"h":1,"v":-0.5},{"s":30,"h":2,"v":-2},{"s":30,"h":2.5,"v":1},{"s":30,"h":3,"v":-0.5},{"s":30,"h":4,"v":-2},{"s":30,"h":5,"v":-3.5},{"s":30,"h":5.5,"v":-1},{"s":30,"h":6,"v":-2.5},{"s":30,"h":7,"v":-4},{"s":30,"h":8,"v":-5.5},{"s":30,"h":8.5,"v":-3},{"s":30,"h":9,"v":-4.5},{"s":30,"h":10,"v":-6},{"s":30,"h":11,"v":-7.5},{"s":30,"h":11.5,"v":-5},{"s":30,"h":12,"v":-6.5},{"s":30,"h":13,"v":-8},{"s":30,"h":14,"v":-9},{"s":30,"h":14.5,"v":-7},{"s":30,"h":15,"v":-8.5},{"s":30,"h":16,"v":-10},{"s":30,"h":17,"v":-11.5},{"s":30,"h":18,"v":-10},{"s":30,"h":19,"v":-11},{"s":30,"h":20,"v":-12.5},{"s":30,"h":21,"v":-11},{"s":30,"h":22,"v":-12.5},{"s":30,"h":23,"v":-14},{"s":30,"h":23.75,"v":-13},
{"s":31,"h":0,"v":0},{"s":31,"h":0.5,"v":3},{"s":31,"h":1,"v":5},{"s":31,"h":1.5,"v":4},{"s":31,"h":2,"v":6},{"s":31,"h":2.5,"v":7},{"s":31,"h":3,"v":8.5},{"s":31,"h":3.5,"v":8},{"s":31,"h":4,"v":7},{"s":31,"h":5,"v":6},{"s":31,"h":6,"v":7},{"s":31,"h":7,"v":5.5},{"s":31,"h":8,"v":4.5},{"s":31,"h":9,"v":6},{"s":31,"h":10,"v":5},{"s":31,"h":11,"v":4},{"s":31,"h":12,"v":5.5},{"s":31,"h":13,"v":4},{"s":31,"h":14,"v":3},{"s":31,"h":15,"v":5},{"s":31,"h":16,"v":6.5},{"s":31,"h":17,"v":5},{"s":31,"h":18,"v":4},{"s":31,"h":19,"v":5},{"s":31,"h":20,"v":6},{"s":31,"h":21,"v":4.5},{"s":31,"h":22,"v":6},{"s":31,"h":23,"v":5},{"s":31,"h":23.75,"v":6.5},
{"s":32,"h":0,"v":0},{"s":32,"h":1,"v":1},{"s":32,"h":2,"v":-0.5},{"s":32,"h":3,"v":1},{"s":32,"h":4,"v":0},{"s":32,"h":5,"v":-1.5},{"s":32,"h":6,"v":0},{"s":32,"h":7,"v":-1},{"s":32,"h":8,"v":1},{"s":32,"h":9,"v":2.5},{"s":32,"h":10,"v":1.5},{"s":32,"h":11,"v":4},{"s":32,"h":12,"v":3},{"s":32,"h":13,"v":2},{"s":32,"h":14,"v":4},{"s":32,"h":15,"v":5.5},{"s":32,"h":16,"v":4.5},{"s":32,"h":17,"v":7},{"s":32,"h":18,"v":6},{"s":32,"h":18.5,"v":9},{"s":32,"h":19,"v":10},{"s":32,"h":19.5,"v":9.5},{"s":32,"h":20,"v":11},{"s":32,"h":20.5,"v":12},{"s":32,"h":21.2,"v":13.75},{"s":32,"h":23.75,"v":13.75},
{"s":33,"h":0,"v":0},{"s":33,"h":0.2,"v":5},{"s":33,"h":0.4,"v":11.2},{"s":33,"h":0.6,"v":13},{"s":33,"h":0.82,"v":14.3},{"s":33,"h":1.2,"v":13},{"s":33,"h":1.58,"v":11.8},{"s":33,"h":2,"v":10.5},{"s":33,"h":2.5,"v":9.5},{"s":33,"h":3,"v":10.5},{"s":33,"h":3.5,"v":9},{"s":33,"h":4,"v":8},{"s":33,"h":4.5,"v":9.5},{"s":33,"h":5,"v":8.5},{"s":33,"h":5.5,"v":7},{"s":33,"h":6,"v":6},{"s":33,"h":7,"v":5},{"s":33,"h":8,"v":6.5},{"s":33,"h":9,"v":5},{"s":33,"h":10,"v":4},{"s":33,"h":11,"v":3},{"s":33,"h":12,"v":4.5},{"s":33,"h":13,"v":3},{"s":33,"h":14,"v":2},{"s":33,"h":15,"v":3.5},{"s":33,"h":16,"v":2},{"s":33,"h":17,"v":1},{"s":33,"h":18,"v":2.5},{"s":33,"h":19,"v":1},{"s":33,"h":20,"v":0},{"s":33,"h":21,"v":1},{"s":33,"h":22,"v":-0.5},{"s":33,"h":23,"v":-1.5},{"s":33,"h":23.75,"v":-1},
{"s":34,"h":0,"v":0},{"s":34,"h":0.5,"v":-1},{"s":34,"h":1,"v":-0.5},{"s":34,"h":1.5,"v":-1.5},{"s":34,"h":2,"v":-2},{"s":34,"h":2.5,"v":-1},{"s":34,"h":3,"v":-1.5},{"s":34,"h":3.5,"v":-2.5},{"s":34,"h":4,"v":-3},{"s":34,"h":4.5,"v":-1},{"s":34,"h":5,"v":-2},{"s":34,"h":5.5,"v":-3},{"s":34,"h":6,"v":-3.5},{"s":34,"h":6.5,"v":-2},{"s":34,"h":7,"v":-3},{"s":34,"h":7.5,"v":-4},{"s":34,"h":8,"v":-4.5},{"s":34,"h":8.5,"v":-2},{"s":34,"h":9,"v":-3},{"s":34,"h":9.5,"v":-4},{"s":34,"h":10,"v":-4.5},{"s":34,"h":10.5,"v":-5},{"s":34,"h":11,"v":-3},{"s":34,"h":11.5,"v":-4},{"s":34,"h":12,"v":-5},{"s":34,"h":12.5,"v":-5.5},{"s":34,"h":13,"v":-2},{"s":34,"h":13.5,"v":-3},{"s":34,"h":14,"v":-4},{"s":34,"h":14.5,"v":-4.5},{"s":34,"h":15,"v":-5},{"s":34,"h":15.5,"v":-1},{"s":34,"h":16,"v":-2},{"s":34,"h":16.5,"v":-3},{"s":34,"h":17,"v":-3.5},{"s":34,"h":17.5,"v":1},{"s":34,"h":18,"v":0},{"s":34,"h":18.5,"v":-0.5},{"s":34,"h":19,"v":-1.5},{"s":34,"h":19.5,"v":-2},{"s":34,"h":20,"v":2},{"s":34,"h":20.5,"v":1},{"s":34,"h":21,"v":0.5},{"s":34,"h":21.5,"v":-0.5},{"s":34,"h":22,"v":3},{"s":34,"h":22.5,"v":2},{"s":34,"h":23,"v":1.5},{"s":34,"h":23.75,"v":0.5},
{"s":35,"h":0,"v":-0.5},{"s":35,"h":0.5,"v":-1},{"s":35,"h":1,"v":-2},{"s":35,"h":1.5,"v":-2.5},{"s":35,"h":2,"v":-3},{"s":35,"h":2.5,"v":-1.5},{"s":35,"h":3,"v":-2.5},{"s":35,"h":3.5,"v":-3},{"s":35,"h":4,"v":-4},{"s":35,"h":4.5,"v":-2},{"s":35,"h":5,"v":-3},{"s":35,"h":5.5,"v":-3.5},{"s":35,"h":6,"v":-4.5},{"s":35,"h":6.5,"v":-5},{"s":35,"h":7,"v":-3},{"s":35,"h":7.5,"v":-4},{"s":35,"h":8,"v":-4.5},{"s":35,"h":8.5,"v":-5.5},{"s":35,"h":9,"v":-6},{"s":35,"h":9.5,"v":-4},{"s":35,"h":10,"v":-5},{"s":35,"h":10.5,"v":-5.5},{"s":35,"h":11,"v":-6.5},{"s":35,"h":11.5,"v":-3},{"s":35,"h":12,"v":-4},{"s":35,"h":12.5,"v":-4.5},{"s":35,"h":13,"v":-5.5},{"s":35,"h":13.5,"v":-6},{"s":35,"h":14,"v":-3.5},{"s":35,"h":14.5,"v":-4.5},{"s":35,"h":15,"v":-5},{"s":35,"h":15.5,"v":-6},{"s":35,"h":16,"v":-2},{"s":35,"h":16.5,"v":-3},{"s":35,"h":17,"v":-3.5},{"s":35,"h":17.5,"v":-4.5},{"s":35,"h":18,"v":-5},{"s":35,"h":18.5,"v":-1},{"s":35,"h":19,"v":-2},{"s":35,"h":19.5,"v":-2.5},{"s":35,"h":20,"v":-3.5},{"s":35,"h":20.5,"v":-4},{"s":35,"h":21,"v":-1},{"s":35,"h":21.5,"v":-2},{"s":35,"h":22,"v":-2.5},{"s":35,"h":22.5,"v":-3.5},{"s":35,"h":23,"v":-4},{"s":35,"h":23.75,"v":-2},
{"s":36,"h":0,"v":0},{"s":36,"h":1,"v":1.5},{"s":36,"h":2,"v":0.5},{"s":36,"h":3,"v":2},{"s":36,"h":4,"v":1},{"s":36,"h":5,"v":3},{"s":36,"h":6,"v":2},{"s":36,"h":7,"v":4},{"s":36,"h":8,"v":5.5},{"s":36,"h":9,"v":4.5},{"s":36,"h":10,"v":6},{"s":36,"h":11,"v":5},{"s":36,"h":12,"v":7},{"s":36,"h":13,"v":6},{"s":36,"h":14,"v":8},{"s":36,"h":15,"v":7},{"s":36,"h":16,"v":9},{"s":36,"h":17,"v":8},{"s":36,"h":17.5,"v":10},{"s":36,"h":18,"v":11.5},{"s":36,"h":19,"v":11},{"s":36,"h":20,"v":10},{"s":36,"h":21,"v":9},{"s":36,"h":22,"v":8},{"s":36,"h":23,"v":9.5},{"s":36,"h":23.75,"v":8.5},
{"s":37,"h":0,"v":0},{"s":37,"h":0.5,"v":3},{"s":37,"h":1,"v":4.5},{"s":37,"h":2,"v":4},{"s":37,"h":3,"v":5},{"s":37,"h":4,"v":3.5},{"s":37,"h":5,"v":4},{"s":37,"h":6,"v":2.5},{"s":37,"h":7,"v":3},{"s":37,"h":8,"v":1.5},{"s":37,"h":9,"v":2},{"s":37,"h":10,"v":0.5},{"s":37,"h":11,"v":1},{"s":37,"h":12,"v":-1},{"s":37,"h":13,"v":0},{"s":37,"h":14,"v":-1.5},{"s":37,"h":15,"v":-2},{"s":37,"h":16,"v":-0.5},{"s":37,"h":17,"v":-2},{"s":37,"h":18,"v":-3.5},{"s":37,"h":19,"v":-2.5},{"s":37,"h":20,"v":1},{"s":37,"h":20.5,"v":4},{"s":37,"h":21,"v":3},{"s":37,"h":22,"v":2.5},{"s":37,"h":23,"v":1},{"s":37,"h":23.75,"v":0.5},
{"s":38,"h":0,"v":0},{"s":38,"h":0.5,"v":2},{"s":38,"h":1,"v":1},{"s":38,"h":2,"v":-1},{"s":38,"h":3,"v":1},{"s":38,"h":4,"v":0},{"s":38,"h":5,"v":2},{"s":38,"h":6,"v":1},{"s":38,"h":7,"v":-0.5},{"s":38,"h":8,"v":1.5},{"s":38,"h":9,"v":0},{"s":38,"h":10,"v":-1.5},{"s":38,"h":11,"v":-1},{"s":38,"h":12,"v":1},{"s":38,"h":13,"v":-0.5},{"s":38,"h":14,"v":-2},{"s":38,"h":15,"v":-1},{"s":38,"h":16,"v":-2.5},{"s":38,"h":17,"v":-4},{"s":38,"h":17.5,"v":-1},{"s":38,"h":18,"v":0},{"s":38,"h":19,"v":-1.5},{"s":38,"h":20,"v":-3},{"s":38,"h":21,"v":-2},{"s":38,"h":22,"v":-3.5},{"s":38,"h":23,"v":-2},{"s":38,"h":23.75,"v":-1},
{"s":39,"h":0,"v":3},{"s":39,"h":0.5,"v":2.5},{"s":39,"h":1,"v":2},{"s":39,"h":1.5,"v":1},{"s":39,"h":2,"v":0.5},{"s":39,"h":2.5,"v":0},{"s":39,"h":3,"v":-0.5},{"s":39,"h":3.5,"v":1},{"s":39,"h":4,"v":0},{"s":39,"h":4.5,"v":-0.5},{"s":39,"h":5,"v":-1},{"s":39,"h":5.5,"v":-2},{"s":39,"h":6,"v":-2.5},{"s":39,"h":6.5,"v":-1},{"s":39,"h":7,"v":-2},{"s":39,"h":7.5,"v":-2.5},{"s":39,"h":8,"v":-3},{"s":39,"h":8.5,"v":0},{"s":39,"h":9,"v":-1},{"s":39,"h":9.5,"v":-1.5},{"s":39,"h":10,"v":-2.5},{"s":39,"h":10.5,"v":-3},{"s":39,"h":11,"v":-3.5},{"s":39,"h":11.5,"v":-1},{"s":39,"h":12,"v":-2},{"s":39,"h":12.5,"v":-2.5},{"s":39,"h":13,"v":-3.5},{"s":39,"h":13.5,"v":-4},{"s":39,"h":14,"v":0},{"s":39,"h":14.5,"v":-0.5},{"s":39,"h":15,"v":-1.5},{"s":39,"h":15.5,"v":-2},{"s":39,"h":16,"v":-2.5},{"s":39,"h":16.5,"v":1},{"s":39,"h":17,"v":0},{"s":39,"h":17.5,"v":-0.5},{"s":39,"h":18,"v":-1.5},{"s":39,"h":18.5,"v":-2},{"s":39,"h":19,"v":1.5},{"s":39,"h":19.5,"v":1},{"s":39,"h":20,"v":0},{"s":39,"h":20.5,"v":-0.5},{"s":39,"h":21,"v":2.5},{"s":39,"h":21.5,"v":2},{"s":39,"h":22,"v":1},{"s":39,"h":22.5,"v":0.5},{"s":39,"h":23,"v":3},{"s":39,"h":23.75,"v":2},
{"s":40,"h":0,"v":0},{"s":40,"h":1,"v":1},{"s":40,"h":2,"v":0},{"s":40,"h":3,"v":1.5},{"s":40,"h":4,"v":3},{"s":40,"h":5,"v":2},{"s":40,"h":6,"v":3.5},{"s":40,"h":7,"v":4.5},{"s":40,"h":8,"v":3},{"s":40,"h":9,"v":5},{"s":40,"h":10,"v":6},{"s":40,"h":11,"v":5},{"s":40,"h":12,"v":6.5},{"s":40,"h":13,"v":8},{"s":40,"h":13.5,"v":9},{"s":40,"h":14,"v":7.5},{"s":40,"h":15,"v":7},{"s":40,"h":16,"v":5.5},{"s":40,"h":17,"v":4},{"s":40,"h":18,"v":3},{"s":40,"h":19,"v":4.5},{"s":40,"h":20,"v":3},{"s":40,"h":21,"v":2},{"s":40,"h":22,"v":3.5},{"s":40,"h":23,"v":2},{"s":40,"h":23.75,"v":1},
{"s":41,"h":0,"v":-1},{"s":41,"h":0.5,"v":-1.5},{"s":41,"h":1,"v":-2},{"s":41,"h":1.5,"v":-2.5},{"s":41,"h":2,"v":-1},{"s":41,"h":2.5,"v":-2},{"s":41,"h":3,"v":-2.5},{"s":41,"h":3.5,"v":-3.5},{"s":41,"h":4,"v":-4},{"s":41,"h":4.5,"v":-2},{"s":41,"h":5,"v":-3},{"s":41,"h":5.5,"v":-3.5},{"s":41,"h":6,"v":-4.5},{"s":41,"h":6.5,"v":-5},{"s":41,"h":7,"v":-5.5},{"s":41,"h":7.5,"v":-3},{"s":41,"h":8,"v":-4},{"s":41,"h":8.5,"v":-4.5},{"s":41,"h":9,"v":-5.5},{"s":41,"h":9.5,"v":-6},{"s":41,"h":10,"v":-3},{"s":41,"h":10.5,"v":-4},{"s":41,"h":11,"v":-4.5},{"s":41,"h":11.5,"v":-5.5},{"s":41,"h":12,"v":-6},{"s":41,"h":12.5,"v":-6.5},{"s":41,"h":13,"v":-4},{"s":41,"h":13.5,"v":-5},{"s":41,"h":14,"v":-5.5},{"s":41,"h":14.5,"v":-6.5},{"s":41,"h":15,"v":-7},{"s":41,"h":15.5,"v":-4.5},{"s":41,"h":16,"v":-5.5},{"s":41,"h":16.5,"v":-6},{"s":41,"h":17,"v":-7},{"s":41,"h":17.5,"v":-7.5},{"s":41,"h":18,"v":-8},{"s":41,"h":18.5,"v":-5},{"s":41,"h":19,"v":-6},{"s":41,"h":19.5,"v":-6.5},{"s":41,"h":20,"v":-7.5},{"s":41,"h":20.5,"v":-8},{"s":41,"h":21,"v":-5.5},{"s":41,"h":21.5,"v":-6.5},{"s":41,"h":22,"v":-7},{"s":41,"h":22.5,"v":-8},{"s":41,"h":23,"v":-8.5},{"s":41,"h":23.75,"v":-9},
{"s":42,"h":0,"v":0},{"s":42,"h":1,"v":-2},{"s":42,"h":2,"v":-3},{"s":42,"h":3,"v":-4.5},{"s":42,"h":4,"v":-6.5},{"s":42,"h":5,"v":-5},{"s":42,"h":6,"v":-7},{"s":42,"h":7,"v":-9},{"s":42,"h":8,"v":-8},{"s":42,"h":9,"v":-10},{"s":42,"h":10,"v":-9},{"s":42,"h":11,"v":-11},{"s":42,"h":12,"v":-10.5},{"s":42,"h":13,"v":-12.5},{"s":42,"h":14,"v":-14},{"s":42,"h":14.48,"v":-15.3},{"s":42,"h":15.31,"v":-17.2},{"s":42,"h":15.86,"v":-18.2},{"s":42,"h":16.42,"v":-19.5},{"s":42,"h":16.97,"v":-21.1},{"s":42,"h":17.53,"v":-23.1},{"s":42,"h":18.08,"v":-24},{"s":42,"h":18.64,"v":-26.1},{"s":42,"h":19.19,"v":-24.7},{"s":42,"h":19.75,"v":-22.4},{"s":42,"h":20.02,"v":-21.4},{"s":42,"h":20.58,"v":-22.1},{"s":42,"h":21.13,"v":-20.1},{"s":42,"h":21.41,"v":-18.5},{"s":42,"h":21.68,"v":-17.2},{"s":42,"h":22.24,"v":-16.6},{"s":42,"h":22.93,"v":-15},{"s":42,"h":23.21,"v":-14},{"s":42,"h":23.75,"v":-13.6},
{"s":43,"h":0,"v":1},{"s":43,"h":0.5,"v":0.5},{"s":43,"h":1,"v":-0.5},{"s":43,"h":1.5,"v":-1},{"s":43,"h":2,"v":-2},{"s":43,"h":2.5,"v":-2.5},{"s":43,"h":3,"v":-1},{"s":43,"h":3.5,"v":-2},{"s":43,"h":4,"v":-2.5},{"s":43,"h":4.5,"v":-3.5},{"s":43,"h":5,"v":-4},{"s":43,"h":5.5,"v":-4.5},{"s":43,"h":6,"v":-2},{"s":43,"h":6.5,"v":-3},{"s":43,"h":7,"v":-3.5},{"s":43,"h":7.5,"v":-4.5},{"s":43,"h":8,"v":-5},{"s":43,"h":8.5,"v":-5.5},{"s":43,"h":9,"v":-6.5},{"s":43,"h":9.5,"v":-4},{"s":43,"h":10,"v":-5},{"s":43,"h":10.5,"v":-5.5},{"s":43,"h":11,"v":-6.5},{"s":43,"h":11.5,"v":-7},{"s":43,"h":12,"v":-7.5},{"s":43,"h":12.5,"v":-5},{"s":43,"h":13,"v":-6},{"s":43,"h":13.5,"v":-6.5},{"s":43,"h":14,"v":-7.5},{"s":43,"h":14.5,"v":-8},{"s":43,"h":15,"v":-8.5},{"s":43,"h":15.5,"v":-5},{"s":43,"h":16,"v":-6},{"s":43,"h":16.5,"v":-6.5},{"s":43,"h":17,"v":-7.5},{"s":43,"h":17.5,"v":-8},{"s":43,"h":18,"v":-4},{"s":43,"h":18.5,"v":-5},{"s":43,"h":19,"v":-5.5},{"s":43,"h":19.5,"v":-6.5},{"s":43,"h":20,"v":-7},{"s":43,"h":20.5,"v":-7.5},{"s":43,"h":21,"v":-3},{"s":43,"h":21.5,"v":-4},{"s":43,"h":22,"v":-4.5},{"s":43,"h":22.5,"v":-5.5},{"s":43,"h":23,"v":-6},{"s":43,"h":23.75,"v":-4},
{"s":44,"h":0,"v":0},{"s":44,"h":1,"v":2},{"s":44,"h":2,"v":3},{"s":44,"h":3,"v":1.5},{"s":44,"h":4,"v":2.5},{"s":44,"h":5,"v":1},{"s":44,"h":6,"v":0},{"s":44,"h":7,"v":1.5},{"s":44,"h":8,"v":0.5},{"s":44,"h":9,"v":2},{"s":44,"h":10,"v":1},{"s":44,"h":11,"v":3},{"s":44,"h":12,"v":5},{"s":44,"h":12.5,"v":7},{"s":44,"h":13,"v":6},{"s":44,"h":14,"v":5},{"s":44,"h":14.5,"v":8},{"s":44,"h":15,"v":7},{"s":44,"h":16,"v":6},{"s":44,"h":17,"v":5},{"s":44,"h":18,"v":4},{"s":44,"h":19,"v":2.5},{"s":44,"h":20,"v":3},{"s":44,"h":21,"v":1.5},{"s":44,"h":22,"v":0.5},{"s":44,"h":23,"v":2},{"s":44,"h":23.75,"v":1},
{"s":45,"h":0,"v":0},{"s":45,"h":1,"v":-2},{"s":45,"h":2,"v":-3},{"s":45,"h":3,"v":-1},{"s":45,"h":4,"v":-2.5},{"s":45,"h":5,"v":-4},{"s":45,"h":6,"v":-5},{"s":45,"h":7,"v":-3},{"s":45,"h":8,"v":-5},{"s":45,"h":9,"v":-7},{"s":45,"h":10,"v":-6},{"s":45,"h":11,"v":-7.5},{"s":45,"h":12,"v":-8},{"s":45,"h":13,"v":-6},{"s":45,"h":14,"v":-8},{"s":45,"h":15,"v":-10},{"s":45,"h":16,"v":-8},{"s":45,"h":17,"v":-4},{"s":45,"h":18,"v":-5},{"s":45,"h":19,"v":-7},{"s":45,"h":20,"v":-6},{"s":45,"h":21,"v":-8},{"s":45,"h":22,"v":-7},{"s":45,"h":23,"v":-9},{"s":45,"h":23.75,"v":-8},
{"s":46,"h":0,"v":0},{"s":46,"h":0.5,"v":6},{"s":46,"h":1,"v":5},{"s":46,"h":2,"v":3.5},{"s":46,"h":3,"v":2},{"s":46,"h":4,"v":3},{"s":46,"h":5,"v":1.5},{"s":46,"h":6,"v":2},{"s":46,"h":7,"v":0.5},{"s":46,"h":8,"v":-1},{"s":46,"h":9,"v":0},{"s":46,"h":10,"v":-1.5},{"s":46,"h":11,"v":-2.5},{"s":46,"h":12,"v":-1},{"s":46,"h":13,"v":-2.5},{"s":46,"h":14,"v":-3},{"s":46,"h":15,"v":-2},{"s":46,"h":16,"v":-4},{"s":46,"h":17,"v":-3},{"s":46,"h":18,"v":-5},{"s":46,"h":19,"v":-4},{"s":46,"h":20,"v":-6},{"s":46,"h":21,"v":-5},{"s":46,"h":22,"v":-7},{"s":46,"h":23,"v":-6},{"s":46,"h":23.75,"v":-7.5},
{"s":47,"h":0,"v":-1},{"s":47,"h":0.5,"v":-1.5},{"s":47,"h":1,"v":-2},{"s":47,"h":1.5,"v":-1},{"s":47,"h":2,"v":-1.5},{"s":47,"h":2.5,"v":-2.5},{"s":47,"h":3,"v":-3},{"s":47,"h":3.5,"v":-4},{"s":47,"h":4,"v":-2},{"s":47,"h":4.5,"v":-3},{"s":47,"h":5,"v":-3.5},{"s":47,"h":5.5,"v":-4.5},{"s":47,"h":6,"v":-5},{"s":47,"h":6.5,"v":-3},{"s":47,"h":7,"v":-4},{"s":47,"h":7.5,"v":-4.5},{"s":47,"h":8,"v":-5.5},{"s":47,"h":8.5,"v":-6},{"s":47,"h":9,"v":-6.5},{"s":47,"h":9.5,"v":-3.5},{"s":47,"h":10,"v":-4.5},{"s":47,"h":10.5,"v":-5},{"s":47,"h":11,"v":-6},{"s":47,"h":11.5,"v":-6.5},{"s":47,"h":12,"v":-7},{"s":47,"h":12.5,"v":-4},{"s":47,"h":13,"v":-5},{"s":47,"h":13.5,"v":-5.5},{"s":47,"h":14,"v":-6.5},{"s":47,"h":14.5,"v":-7},{"s":47,"h":15,"v":-2},{"s":47,"h":15.5,"v":-3},{"s":47,"h":16,"v":-3.5},{"s":47,"h":16.5,"v":-4.5},{"s":47,"h":17,"v":-5},{"s":47,"h":17.5,"v":-5.5},{"s":47,"h":18,"v":0},{"s":47,"h":18.5,"v":-1},{"s":47,"h":19,"v":-1.5},{"s":47,"h":19.5,"v":-2.5},{"s":47,"h":20,"v":3},{"s":47,"h":20.5,"v":2},{"s":47,"h":21,"v":1.5},{"s":47,"h":21.5,"v":0.5},{"s":47,"h":22,"v":0},{"s":47,"h":22.5,"v":-1},{"s":47,"h":23,"v":4},{"s":47,"h":23.75,"v":3},
{"s":48,"h":0,"v":0},{"s":48,"h":1,"v":3.5},{"s":48,"h":2,"v":3},{"s":48,"h":3,"v":2},{"s":48,"h":4,"v":1},{"s":48,"h":5,"v":0},{"s":48,"h":6,"v":-1.5},{"s":48,"h":7,"v":-1},{"s":48,"h":8,"v":-2.5},{"s":48,"h":9,"v":-1},{"s":48,"h":10,"v":-2},{"s":48,"h":11,"v":-3.5},{"s":48,"h":12,"v":-2.5},{"s":48,"h":13,"v":-4},{"s":48,"h":14,"v":-5},{"s":48,"h":15,"v":-3},{"s":48,"h":16,"v":-4.5},{"s":48,"h":17,"v":-6},{"s":48,"h":18,"v":-5},{"s":48,"h":19,"v":-4},{"s":48,"h":20,"v":-6},{"s":48,"h":21,"v":-5},{"s":48,"h":22,"v":-6.5},{"s":48,"h":23,"v":-7},{"s":48,"h":23.75,"v":-6},
{"s":49,"h":0,"v":2},{"s":49,"h":0.5,"v":1.5},{"s":49,"h":1,"v":0.5},{"s":49,"h":1.5,"v":0},{"s":49,"h":2,"v":-1},{"s":49,"h":2.5,"v":1},{"s":49,"h":3,"v":0.5},{"s":49,"h":3.5,"v":-0.5},{"s":49,"h":4,"v":-1},{"s":49,"h":4.5,"v":-2},{"s":49,"h":5,"v":0},{"s":49,"h":5.5,"v":-1},{"s":49,"h":6,"v":-1.5},{"s":49,"h":6.5,"v":-2.5},{"s":49,"h":7,"v":-3},{"s":49,"h":7.5,"v":-1},{"s":49,"h":8,"v":-2},{"s":49,"h":8.5,"v":-2.5},{"s":49,"h":9,"v":-3},{"s":49,"h":9.5,"v":-1},{"s":49,"h":10,"v":-1.5},{"s":49,"h":10.5,"v":-2.5},{"s":49,"h":11,"v":-3},{"s":49,"h":11.5,"v":-3.5},{"s":49,"h":12,"v":0},{"s":49,"h":12.5,"v":-1},{"s":49,"h":13,"v":-1.5},{"s":49,"h":13.5,"v":-2.5},{"s":49,"h":14,"v":-3},{"s":49,"h":14.5,"v":-0.5},{"s":49,"h":15,"v":-1.5},{"s":49,"h":15.5,"v":-2},{"s":49,"h":16,"v":-3},{"s":49,"h":16.5,"v":0.5},{"s":49,"h":17,"v":0},{"s":49,"h":17.5,"v":-1},{"s":49,"h":18,"v":-1.5},{"s":49,"h":18.5,"v":2},{"s":49,"h":19,"v":1},{"s":49,"h":19.5,"v":0.5},{"s":49,"h":20,"v":-0.5},{"s":49,"h":20.5,"v":-1},{"s":49,"h":21,"v":3},{"s":49,"h":21.5,"v":2},{"s":49,"h":22,"v":1.5},{"s":49,"h":22.5,"v":0.5},{"s":49,"h":23,"v":4},{"s":49,"h":23.75,"v":3.5},
{"s":50,"h":0,"v":0},{"s":50,"h":1,"v":2},{"s":50,"h":2,"v":4},{"s":50,"h":3,"v":3},{"s":50,"h":4,"v":5},{"s":50,"h":5,"v":4.5},{"s":50,"h":6,"v":6},{"s":50,"h":7,"v":5},{"s":50,"h":8,"v":7},{"s":50,"h":9,"v":6},{"s":50,"h":10,"v":5},{"s":50,"h":11,"v":6.5},{"s":50,"h":12,"v":5},{"s":50,"h":13,"v":4},{"s":50,"h":14,"v":6},{"s":50,"h":15,"v":5},{"s":50,"h":16,"v":4},{"s":50,"h":17,"v":6},{"s":50,"h":18,"v":5},{"s":50,"h":19,"v":7},{"s":50,"h":20,"v":6},{"s":50,"h":21,"v":8},{"s":50,"h":22,"v":7},{"s":50,"h":23,"v":9},{"s":50,"h":23.75,"v":8},
{"s":51,"h":0,"v":0},{"s":51,"h":0.5,"v":-1.5},{"s":51,"h":1,"v":-2.5},{"s":51,"h":2,"v":-4},{"s":51,"h":2.5,"v":-5.5},{"s":51,"h":3,"v":-6.5},{"s":51,"h":3.5,"v":-7.5},{"s":51,"h":4.08,"v":-10.7},{"s":51,"h":4.5,"v":-11},{"s":51,"h":4.77,"v":-12.7},{"s":51,"h":5.1,"v":-10.5},{"s":51,"h":5.5,"v":-12},{"s":51,"h":6,"v":-13},{"s":51,"h":7,"v":-11},{"s":51,"h":8,"v":-12},{"s":51,"h":9,"v":-10},{"s":51,"h":10,"v":-9},{"s":51,"h":11,"v":-10.5},{"s":51,"h":12,"v":-9},{"s":51,"h":13,"v":-10},{"s":51,"h":14,"v":-8},{"s":51,"h":15,"v":-9.5},{"s":51,"h":16,"v":-11},{"s":51,"h":17,"v":-10},{"s":51,"h":18,"v":-12},{"s":51,"h":19,"v":-11},{"s":51,"h":20,"v":-12.5},{"s":51,"h":21,"v":-14},{"s":51,"h":22,"v":-12.5},{"s":51,"h":23,"v":-13.5},{"s":51,"h":23.75,"v":-13},
{"s":52,"h":0,"v":1},{"s":52,"h":0.5,"v":0},{"s":52,"h":1,"v":-0.5},{"s":52,"h":1.5,"v":-1.5},{"s":52,"h":2,"v":-2},{"s":52,"h":2.5,"v":0},{"s":52,"h":3,"v":-1},{"s":52,"h":3.5,"v":-1.5},{"s":52,"h":4,"v":-2.5},{"s":52,"h":4.5,"v":-3},{"s":52,"h":5,"v":-1},{"s":52,"h":5.5,"v":-2},{"s":52,"h":6,"v":-2.5},{"s":52,"h":6.5,"v":-3.5},{"s":52,"h":7,"v":-4},{"s":52,"h":7.5,"v":-1.5},{"s":52,"h":8,"v":-2.5},{"s":52,"h":8.5,"v":-3},{"s":52,"h":9,"v":-4},{"s":52,"h":9.5,"v":-4.5},{"s":52,"h":10,"v":-2},{"s":52,"h":10.5,"v":-3},{"s":52,"h":11,"v":-3.5},{"s":52,"h":11.5,"v":-4.5},{"s":52,"h":12,"v":-5},{"s":52,"h":12.5,"v":-2},{"s":52,"h":13,"v":-3},{"s":52,"h":13.5,"v":-3.5},{"s":52,"h":14,"v":-4.5},{"s":52,"h":14.5,"v":-1},{"s":52,"h":15,"v":-2},{"s":52,"h":15.5,"v":-2.5},{"s":52,"h":16,"v":-3.5},{"s":52,"h":16.5,"v":-4},{"s":52,"h":17,"v":-1},{"s":52,"h":17.5,"v":-2},{"s":52,"h":18,"v":-2.5},{"s":52,"h":18.5,"v":-3.5},{"s":52,"h":19,"v":1},{"s":52,"h":19.5,"v":0},{"s":52,"h":20,"v":-0.5},{"s":52,"h":20.5,"v":-1.5},{"s":52,"h":21,"v":-2},{"s":52,"h":21.5,"v":1.5},{"s":52,"h":22,"v":0.5},{"s":52,"h":22.5,"v":0},{"s":52,"h":23,"v":-1},{"s":52,"h":23.75,"v":-2},
{"s":53,"h":0,"v":0},{"s":53,"h":1,"v":-0.5},{"s":53,"h":2,"v":1},{"s":53,"h":3,"v":2.5},{"s":53,"h":4,"v":1.5},{"s":53,"h":5,"v":3},{"s":53,"h":6,"v":2},{"s":53,"h":7,"v":3.5},{"s":53,"h":8,"v":5},{"s":53,"h":9,"v":4},{"s":53,"h":10,"v":5.5},{"s":53,"h":11,"v":4.5},{"s":53,"h":12,"v":3},{"s":53,"h":13,"v":4.5},{"s":53,"h":14,"v":3.5},{"s":53,"h":15,"v":5},{"s":53,"h":16,"v":4},{"s":53,"h":17,"v":2.5},{"s":53,"h":18,"v":4},{"s":53,"h":19,"v":3},{"s":53,"h":20,"v":2},{"s":53,"h":21,"v":3.5},{"s":53,"h":22,"v":2.5},{"s":53,"h":23,"v":4},{"s":53,"h":23.75,"v":3}
]},
"layer": [
{"mark": {"type": "line", "strokeWidth": 1, "clip": true},
 "encoding": {
  "x": {"field": "h", "type": "quantitative", "scale": {"domain": [0, 23.75], "nice": false, "zero": false},
        "axis": {"orient": "bottom", "values": [0,1,2,3,4,5,6,7,8,9,10,11,12,13,14,15,16,17,18,19,20,21,22,23], "grid": false, "domain": false, "tickSize": -6, "tickColor": "#000", "labelPadding": 13, "labelFont": "DejaVu Sans Mono", "labelFontSize": 11, "labelColor": "#000", "labelFlush": false, "labelOverlap": false, "title": "Hour of Day", "titleFont": "DejaVu Sans Mono", "titleFontSize": 11, "titleFontWeight": "normal", "titleColor": "#000", "titlePadding": 4}},
  "y": {"field": "v", "type": "quantitative", "scale": {"domain": [-30, 50], "nice": false, "zero": false},
        "axis": {"orient": "left", "values": [-30,-20,-10,0,10,20,30,40,50], "grid": false, "domain": false, "tickSize": -6, "tickColor": "#000", "labelPadding": 15, "labelFont": "DejaVu Sans Mono", "labelFontSize": 11, "labelColor": "#000", "labelFlush": false, "labelOverlap": false, "title": "Cumulative (Z*Z)-1", "titleFont": "DejaVu Sans Mono", "titleFontSize": 11, "titleFontWeight": "normal", "titleColor": "#000", "titlePadding": 8}},
  "color": {"field": "s", "type": "nominal", "legend": null,
            "scale": {"domain": [0,1,2,3,4,5,6,7,8,9,10,11,12,13,14,15,16,17,18,19,20,21,22,23,24,25,26,27,28,29,30,31,32,33,34,35,36,37,38,39,40,41,42,43,44,45,46,47,48,49,50,51,52,53],
                      "range": ["#ff0000","#00b000","#0000ff","#ff50ff","#00f0f0","#a00000","#ffff00","#000000","#5050ff",
                                "#ff0000","#00b000","#0000ff","#ff50ff","#00f0f0","#a00000","#ffff00","#000000","#5050ff",
                                "#ff0000","#00b000","#0000ff","#ff50ff","#00f0f0","#a00000","#ffff00","#0000ff","#5050ff",
                                "#ff0000","#00b000","#0000ff","#ff50ff","#00f0f0","#a00000","#ffff00","#0000ff","#5050ff",
                                "#ff0000","#00b000","#0000ff","#ff50ff","#00f0f0","#a00000","#ffff00","#5050ff","#5050ff",
                                "#ff0000","#00b000","#0000ff","#ff50ff","#00f0f0","#a00000","#ffff00","#00f0f0","#5050ff"]}}
 }},
{"mark": {"type": "line", "opacity": 0},
 "encoding": {
  "x": {"field": "h", "type": "quantitative", "axis": {"orient": "top", "values": [0,1,2,3,4,5,6,7,8,9,10,11,12,13,14,15,16,17,18,19,20,21,22,23], "grid": false, "domain": false, "labels": false, "tickSize": -6, "tickColor": "#000", "title": null}},
  "y": {"field": "v", "type": "quantitative", "axis": {"orient": "right", "values": [-30,-20,-10,0,10,20,30,40,50], "grid": false, "domain": false, "labels": false, "tickSize": -6, "tickColor": "#000", "title": null}},
  "detail": {"field": "s"}
 }}
],
"resolve": {"axis": {"x": "independent", "y": "independent"}}
}
